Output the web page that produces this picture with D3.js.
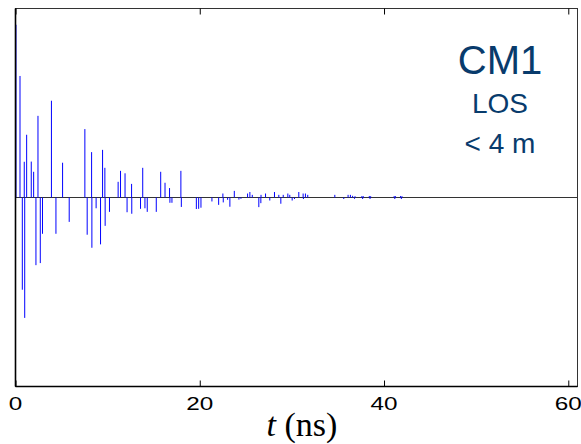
<!DOCTYPE html>
<html>
<head>
<meta charset="utf-8">
<script src="https://cdn.jsdelivr.net/npm/d3@7"></script>
<style>
body { margin: 0; background: white; }
</style>
</head>
<body>
<script>
var width = 581;
var height = 444;

// arrival times (ns) and amplitudes of the impulse response
var times = [0.05, 0.49, 0.74, 0.95, 1.0, 1.21, 1.71, 1.97, 2.22, 2.44, 2.69, 2.93,
    3.9, 4.39, 5.11, 5.83, 7.53, 7.78, 8.26, 8.29, 8.75, 9.23, 9.45, 9.7, 9.73, 10.2,
    11.14, 11.4, 11.89, 12.11, 12.6, 12.62, 13.57, 13.81, 14.05, 14.3, 15.28, 15.76,
    16.23, 16.72, 16.76, 16.98, 17.95, 18.0, 19.63, 19.88, 20.13, 21.32, 22.05, 22.51,
    22.55, 23.02, 23.27, 23.75, 24.25, 24.47, 25.19, 25.44, 25.7, 26.41, 26.63, 26.65,
    27.14, 27.6, 28.11, 28.58, 28.8, 29.06, 29.56, 29.77, 30.03, 30.28, 30.75, 31.22,
    31.25, 31.47, 31.72, 34.66, 35.63, 36.1, 36.35, 36.59, 36.8, 36.85,
    37.6, 37.68, 37.75, 38.4, 38.48, 38.55, 41.1, 41.17, 41.25, 41.8, 41.88, 41.95];
var amps = [0.914, 0.643, -0.488, 0.189, -0.637, 0.332, 0.19, 0.136, -0.358, 0.432, -0.347, -0.192,
    0.512, -0.192, 0.184, -0.129, 0.362, -0.197, 0.24, -0.266, -0.057, -0.248, 0.252, 0.157, -0.15, -0.076,
    0.083, 0.141, 0.128, -0.078, 0.072, -0.086, -0.06, 0.157, -0.057, -0.076, -0.076, 0.136,
    0.078, 0.05, -0.028, -0.028, 0.141, -0.05, -0.061, -0.06, -0.054, -0.021, -0.039, 0.021,
    -0.026, -0.012, -0.049, 0.035, -0.011, -0.007, 0.021, 0.029, 0.014, -0.051, -0.03, 0.014,
    0.021, -0.016, 0.029, 0.014, -0.033, 0.014, 0.021, 0.014, -0.016, -0.008, 0.029, 0.021,
    -0.008, 0.021, 0.014, 0.014, -0.008, 0.014, 0.014, 0.009, -0.007, 0.007,
    0.008, -0.008, 0.007, 0.008, -0.008, 0.007, 0.008, -0.008, 0.007, 0.008, -0.008, 0.007];

var tickValues = [0, 20, 40, 60];
var labelLines = ["CM1", "LOS", "< 4 m"];

var svg = d3.select("body").append("svg")
    .attr("width", width)
    .attr("height", height);

// plot area edges (note: "top" is reserved in the browser, so plotTop)
var plotLeft = 15.5, plotRight = 577.5, plotTop = 8.5, plotBottom = 386.5;

var x = d3.scaleLinear().domain([0, 61]).range([plotLeft, plotRight]);
var y = d3.scaleLinear().domain([-1, 1]).range([plotBottom, plotTop]);

// zero line
svg.append("line")
    .attr("x1", plotLeft).attr("x2", plotRight)
    .attr("y1", y(0)).attr("y2", y(0))
    .attr("stroke", "#333")
    .attr("stroke-width", 1);

// stems
svg.selectAll(".stem")
    .data(times)
    .enter()
    .append("line")
    .attr("class", "stem")
    .attr("x1", function(d) { return x(d); })
    .attr("x2", function(d) { return x(d); })
    .attr("y1", y(0))
    .attr("y2", function(d, i) { return y(amps[i]); })
    .attr("stroke", "#0000ff")
    .attr("stroke-width", 1);

// axes box
svg.append("rect")
    .attr("x", plotLeft).attr("y", plotTop)
    .attr("width", plotRight - plotLeft).attr("height", plotBottom - plotTop)
    .attr("fill", "none")
    .attr("stroke", "#333")
    .attr("stroke-width", 1);
svg.append("line")
    .attr("x1", plotLeft).attr("x2", plotLeft).attr("y1", plotTop).attr("y2", plotBottom)
    .attr("stroke", "#000").attr("stroke-width", 1.6);
svg.append("line")
    .attr("x1", plotLeft).attr("x2", plotRight).attr("y1", plotBottom).attr("y2", plotBottom)
    .attr("stroke", "#000").attr("stroke-width", 1.6);

// ticks, inside, top and bottom
var bottomAxis = d3.axisBottom(x).tickValues(tickValues).tickSize(-6).tickFormat("");
var topAxis = d3.axisTop(x).tickValues(tickValues).tickSize(-6).tickFormat("");
var gb = svg.append("g").attr("transform", "translate(0," + plotBottom + ")").call(bottomAxis);
var gt = svg.append("g").attr("transform", "translate(0," + plotTop + ")").call(topAxis);
[gb, gt].forEach(function(g) {
    g.select(".domain").remove();
    g.selectAll(".tick line").attr("stroke", "#000").attr("stroke-width", 1);
});

// tick labels (wide font)
svg.selectAll(".tlabel")
    .data(tickValues)
    .enter()
    .append("text")
    .attr("class", "tlabel")
    .attr("transform", function(d) { return "translate(" + x(d) + ",410) scale(1.35,1)"; })
    .attr("text-anchor", "middle")
    .style("font-family", "Liberation Sans, Arial, sans-serif")
    .style("font-size", "18px")
    .attr("fill", "#000")
    .text(function(d) { return d; });

// x label
var xl = svg.append("text")
    .attr("x", 302)
    .attr("y", 436)
    .attr("text-anchor", "middle")
    .style("font-family", "Liberation Serif, Times New Roman, serif")
    .style("font-size", "34px")
    .attr("fill", "#000");
xl.append("tspan").style("font-style", "italic").text("t");
xl.append("tspan").text(" (ns)");

// annotation
var annY = [74, 113, 153];
var annSize = [40, 28, 28];
svg.selectAll(".ann")
    .data(labelLines)
    .enter()
    .append("text")
    .attr("class", "ann")
    .attr("x", 500)
    .attr("y", function(d, i) { return annY[i]; })
    .attr("text-anchor", "middle")
    .style("font-family", "Liberation Sans, Arial, sans-serif")
    .style("font-size", function(d, i) { return annSize[i] + "px"; })
    .attr("fill", "#083b6c")
    .text(function(d) { return d; });
</script>
</body>
</html>
